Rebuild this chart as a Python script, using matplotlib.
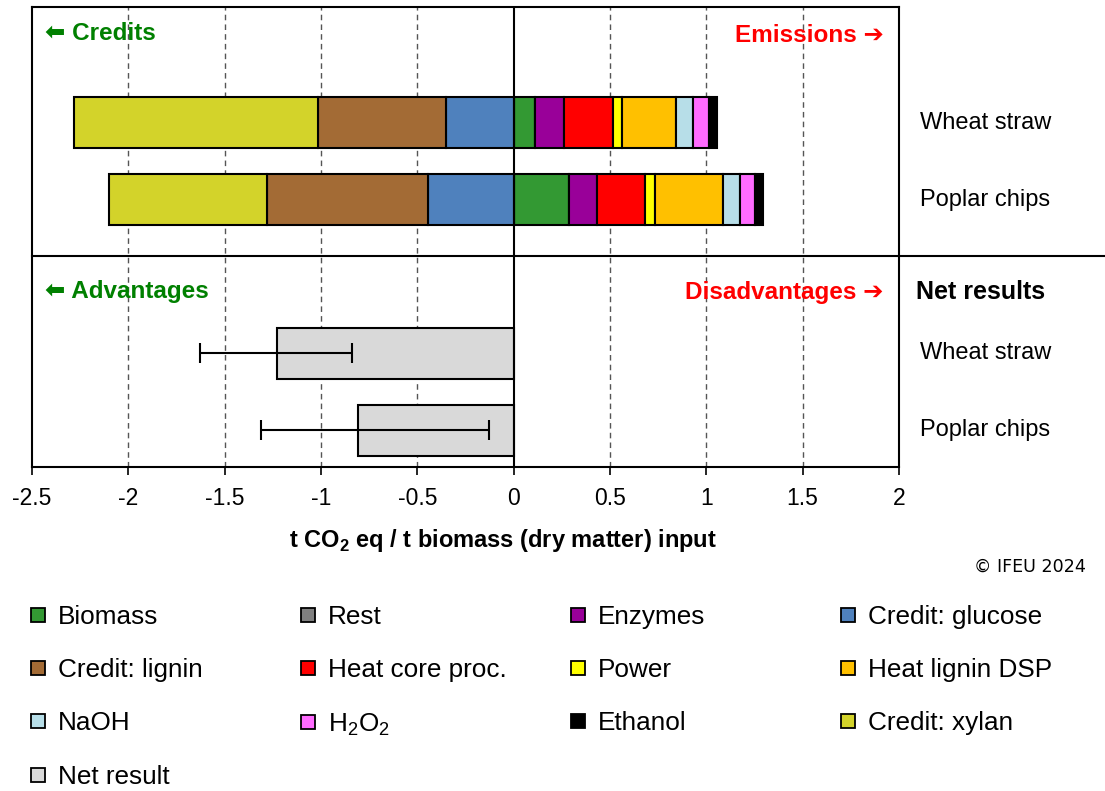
import numpy as np
import matplotlib.pyplot as plt
from matplotlib.lines import Line2D

plt.rcParams['font.family'] = ['Liberation Sans', 'DejaVu Sans']
plt.rcParams['mathtext.fontset'] = 'custom'
plt.rcParams['mathtext.rm'] = 'Liberation Sans'
plt.rcParams['mathtext.bf'] = 'Liberation Sans:bold'

# Daten (t CO2 eq / t Biomasse)
feedstocks = ['Wheat straw', 'Poplar chips']

# Emissionen (positiv), Reihenfolge der Stapelung
biomass = [0.110, 0.285]
rest = [0.0, 0.0]
enzymes = [0.152, 0.150]
heat_core = [0.252, 0.248]
power = [0.050, 0.050]
heat_lignin = [0.281, 0.353]
naoh = [0.086, 0.087]
h2o2 = [0.083, 0.081]
ethanol = [0.041, 0.038]

# Gutschriften (negativ), von 0 nach links
credit_glucose = [-0.349, -0.446]
credit_lignin = [-0.668, -0.832]
credit_xylan = [-1.263, -0.820]

# Nettoergebnis mit Fehlerbalken
net_result = [-1.226, -0.808]
net_low = [-1.627, -1.309]
net_high = [-0.841, -0.130]

xticks = [-2.5, -2, -1.5, -1, -0.5, 0, 0.5, 1, 1.5, 2]
xticklabels = ['-2.5', '-2', '-1.5', '-1', '-0.5', '0', '0.5', '1', '1.5', '2']

pos_series = [
    ('Biomass', biomass, '#339933'),
    ('Rest', rest, '#808080'),
    ('Enzymes', enzymes, '#990099'),
    ('Heat core proc.', heat_core, '#FF0000'),
    ('Power', power, '#FFFF00'),
    ('Heat lignin DSP', heat_lignin, '#FFC000'),
    ('NaOH', naoh, '#B7DEE8'),
    ('H$_\\mathregular{2}$O$_\\mathregular{2}$', h2o2, '#FF6BFF'),
    ('Ethanol', ethanol, '#000000'),
]
neg_series = [
    ('Credit: glucose', credit_glucose, '#4F81BD'),
    ('Credit: lignin', credit_lignin, '#A36B35'),
    ('Credit: xylan', credit_xylan, '#D3D32A'),
]
net_color = '#D9D9D9'

fig = plt.figure(figsize=(11.05, 7.91), dpi=100)
ax = fig.add_axes([32 / 1105, 1 - 467.3 / 791, 867 / 1105, (467.3 - 6.7) / 791])

y_top = np.array([0, 1])
y_net = np.array([3, 4])
h = 0.66

colors = {}
left = np.zeros(2)
for name, vals, col in pos_series:
    ax.barh(y_top, vals, left=left, height=h, color=col, edgecolor='black', linewidth=1.5, zorder=3)
    left = left + np.array(vals)
    colors[name] = col
left = np.zeros(2)
for name, vals, col in neg_series:
    ax.barh(y_top, vals, left=left, height=h, color=col, edgecolor='black', linewidth=1.5, zorder=3)
    left = left + np.array(vals)
    colors[name] = col

xerr = [np.array(net_result) - np.array(net_low), np.array(net_high) - np.array(net_result)]
ax.barh(y_net, net_result, height=h, color=net_color, edgecolor='black', linewidth=1.5, zorder=3)
ax.errorbar(net_result, y_net, xerr=xerr, fmt='none', ecolor='black', elinewidth=1.5,
            capsize=7, capthick=1.5, zorder=4)
colors['Net result'] = net_color

# Gitter und Achsen
for xv in xticks[1:-1]:
    if xv != 0:
        ax.axvline(xv, color='#555555', linestyle=(0, (4, 3)), lw=1, zorder=1)
ax.axvline(0, color='black', lw=1.5, zorder=5)
ax.axhline(1.734, xmin=0, xmax=(1105 - 32) / 867, color='black', lw=1.5, clip_on=False, zorder=5)

ax.set_xlim(-2.5, 2)
ax.set_ylim(4.478, -1.504)
ax.set_xticks(xticks)
ax.set_xticklabels(xticklabels, fontsize=16.5)
ax.set_yticks([])
ax.tick_params(axis='x', direction='out', length=6, width=1.2, pad=8)
for sp in ax.spines.values():
    sp.set_linewidth(1.5)

# Beschriftungen
green = '#008000'
red = '#FF0000'
ax.text(-2.43, -1.15, '⬅ Credits', color=green, fontsize=17.5, fontweight='bold', va='center', ha='left')
ax.text(1.92, -1.13, 'Emissions ➔', color=red, fontsize=17.5, fontweight='bold', va='center', ha='right')
ax.text(-2.43, 2.2, '⬅ Advantages', color=green, fontsize=17.5, fontweight='bold', va='center', ha='left')
ax.text(1.92, 2.21, 'Disadvantages ➔', color=red, fontsize=17.5, fontweight='bold', va='center', ha='right')
ax.text(2.09, 2.2, 'Net results', color='black', fontsize=18, fontweight='bold', va='center',
        ha='left', clip_on=False)
for yy, name in zip(list(y_top) + list(y_net), feedstocks + feedstocks):
    ax.text(2.11, yy, name, fontsize=17, va='center', ha='left', clip_on=False)

fig.text(503 / 1105, 1 - 541 / 791, 't CO$_\\mathbf{2}$ eq / t biomass (dry matter) input',
         fontsize=17, fontweight='bold', ha='center', va='center')
fig.text(1086 / 1105, 1 - 567 / 791, '© IFEU 2024', fontsize=12.6, ha='right', va='center',
         family=['DejaVu Sans'])

# Legende in 4 Spalten (zeilenweise gelesen)
legend_cols = [
    ['Biomass', 'Credit: lignin', 'NaOH', 'Net result'],
    ['Rest', 'Heat core proc.', 'H$_\\mathregular{2}$O$_\\mathregular{2}$'],
    ['Enzymes', 'Power', 'Ethanol'],
    ['Credit: glucose', 'Heat lignin DSP', 'Credit: xylan'],
]
col_x = [38, 308, 578, 848]
fs = 18.8
em = fs / 72 * 100
for cx, names in zip(col_x, legend_cols):
    handles = [Line2D([], [], marker='s', markersize=9.5, markerfacecolor=colors[n],
                      markeredgecolor='black', markeredgewidth=1.3, linestyle='none') for n in names]
    fig.legend(handles, names, loc='upper left',
               bbox_to_anchor=((cx - em / 2) / 1105, 1 - 605 / 791),
               frameon=False, fontsize=fs, handlelength=1.0, handletextpad=0.27,
               borderpad=0, borderaxespad=0, labelspacing=1.12)

fig.savefig('out.png', dpi=100)
